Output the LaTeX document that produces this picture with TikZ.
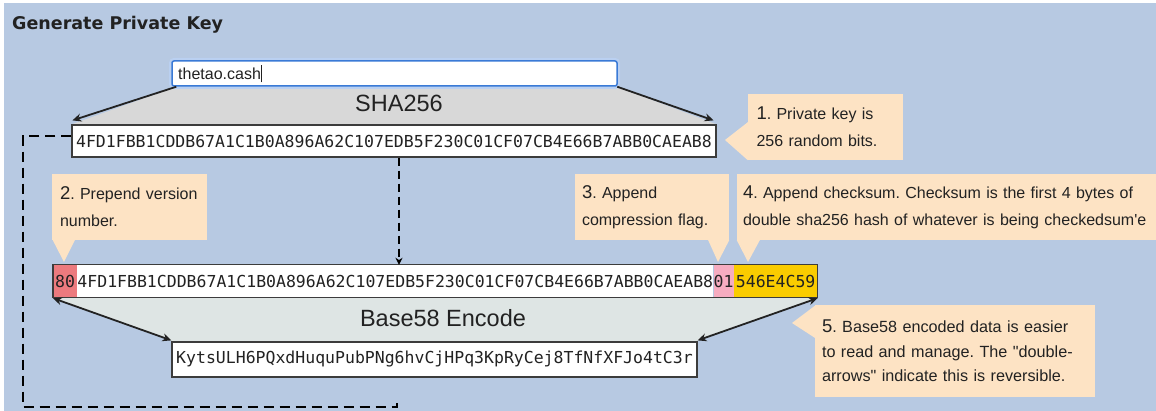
\documentclass[tikz,border=0pt]{standalone}
\usepackage{fontspec}
\setmainfont{Liberation Sans}
\newfontfamily\titlefont{DejaVu Sans}
\newfontfamily\hexfont{DejaVu Sans Mono}
\usetikzlibrary{arrows.meta,backgrounds}
\frenchspacing

\definecolor{bgblue}{RGB}{183,201,226}
\definecolor{peach}{RGB}{253,227,196}
\definecolor{shagray}{RGB}{216,216,216}
\definecolor{encgray}{RGB}{222,229,228}
\definecolor{verred}{RGB}{236,122,126}
\definecolor{flagpink}{RGB}{246,172,192}
\definecolor{ckyellow}{RGB}{250,204,0}
\definecolor{focusblue}{RGB}{58,122,214}
\definecolor{ink}{RGB}{34,34,34}
\definecolor{boxedge}{RGB}{60,60,60}

\newcommand\cnum[1]{{\fontsize{18.5}{26}\selectfont #1}}
\newcommand\noteline[1]{\mbox{#1}}

\tikzset{
  callout/.style={fill=peach, inner sep=0pt, align=left, text=ink,
    font=\fontsize{16}{27}\selectfont},
  hexbox/.style={draw=boxedge, line width=1.2pt, fill=white, text=ink,
    font=\hexfont\fontsize{16.5}{20}\selectfont, inner ysep=0pt},
  hexseg/.style={inner sep=0pt, text=ink, minimum height=32pt,
    font=\hexfont\fontsize{16.5}{20}\selectfont},
  flow/.style={draw=ink, line width=1.8pt, -{Stealth[length=9pt,width=8pt]}},
  bothways/.style={draw=ink, line width=1.8pt,
    {Stealth[length=9pt,width=8pt]}-{Stealth[length=9pt,width=8pt]}},
  dashflow/.style={draw=black, line width=1.8pt, dash pattern=on 8pt off 5pt,
    -{Stealth[length=7pt,width=7pt]}},
  dashloop/.style={draw=black, line width=1.8pt, dash pattern=on 10pt off 6pt},
  stagelabel/.style={font=\fontsize{23.5}{26}\selectfont, text=ink}
}

\begin{document}
\begin{tikzpicture}[x=1pt,y=-1pt]
\useasboundingbox (0,0) rectangle (1156,411);

% heading
\node[anchor=west, inner sep=0pt, text=ink,
      font=\titlefont\bfseries\fontsize{17.5}{20}\selectfont]
  (title) at (12,25) {Generate Private Key};

% passphrase input field
\node[draw=focusblue!35, line width=4pt, rounded corners=3pt,
      minimum width=447pt, minimum height=27pt, inner sep=0pt] (inputglow) at (394.5,73.5) {};
\node[draw=focusblue, line width=1.5pt, fill=white, rounded corners=2pt,
      minimum width=445pt, minimum height=25pt, inner sep=0pt] (input) at (394.5,73.5) {};
\node[anchor=west, inner sep=0pt, text=ink, font=\fontsize{16}{20}\selectfont]
  (inputtext) at (178,74) {thetao.cash\rule[-3pt]{0.8pt}{17pt}};

% 256-bit private key
\node[hexbox, minimum width=644pt, minimum height=32pt, inner xsep=4pt]
  (hash) at (394,141) {4FD1FBB1CDDB67A1C1B0A896A62C107EDB5F230C01CF07CB4E66B7ABB0CAEAB8};

% SHA256 stage
\node[stagelabel] (sha) at (399,103) {SHA256};
\draw[flow] ([xshift=5pt]input.south west) -- ([shift={(1pt,4pt)}]hash.north west);
\draw[flow] ([xshift=-0.5pt]input.south east) -- ([shift={(-3pt,4pt)}]hash.north east);

% extended key: version + key + compression flag + checksum
\node[hexseg, fill=verred, anchor=west, inner xsep=2pt] (ver) at (53,281) {80};
\node[hexseg, fill=white, anchor=west] (key) at (ver.east)
  {4FD1FBB1CDDB67A1C1B0A896A62C107EDB5F230C01CF07CB4E66B7ABB0CAEAB8};
\node[hexseg, fill=flagpink, anchor=west] (flag) at (key.east) {01};
\node[hexseg, fill=ckyellow, anchor=west, inner xsep=2pt] (ck) at (flag.east) {546E4C59};
\draw[boxedge, line width=1.2pt] (ver.north west) rectangle (ck.south east);

% Base58 result
\node[hexbox, minimum width=525pt, minimum height=35pt, inner xsep=4pt]
  (wif) at (434.5,359.5) {KytsULH6PQxdHuquPubPNg6hvCjHPq3KpRyCej8TfNfXFJo4tC3r};

% Base58 stage
\node[stagelabel] (enc) at (443,318) {Base58 Encode};
\draw[bothways] ([yshift=-1pt]ver.south west) -- ([yshift=1pt]wif.north west);
\draw[bothways] ([yshift=-1pt]ck.south east) -- ([yshift=1pt]wif.north east);

% key carried down into the extended key
\draw[dashflow] ([xshift=5pt]hash.south) -- ([xshift=5pt]hash.south |- key.north);

% key carried on to the next step
\coordinate (loopa) at (23,136);
\coordinate (loopb) at (23,407);
\coordinate (loopc) at (397,407);
\coordinate (loopd) at (397,403);
\draw[dashloop] ([yshift=5pt]hash.west) -- (loopa) -- (loopb) -- (loopc) -- (loopd);

% callouts
\node[callout, minimum width=155pt, minimum height=66pt, text width=138pt]
  (c1) at (825.5,127) {\noteline{\cnum{1}. Private key is}\\\noteline{256 random bits.}};
\coordinate (t1) at (725,140);
\fill[peach] ([yshift=38pt]c1.south west) -- (t1) -- (c1.south west) -- cycle;

\node[callout, minimum width=155pt, minimum height=66pt, text width=139pt]
  (c2) at (129.5,207) {\noteline{\cnum{2}. Prepend version}\\\noteline{number.}};
\coordinate (t2) at (64,262);
\fill[peach] ([xshift=1pt]c2.south west) -- (t2) -- ([xshift=23pt]c2.south west) -- cycle;

\node[callout, minimum width=154pt, minimum height=66pt, text width=140pt]
  (c3) at (652,207) {\noteline{\cnum{3}. Append}\\\noteline{compression flag.}};
\coordinate (t3) at (718,262);
\fill[peach] ([xshift=-21pt]c3.south east) -- (t3) -- (c3.south east) -- cycle;

\node[callout, minimum width=419pt, minimum height=66pt, text width=407pt]
  (c4) at (946.5,207) {\noteline{\cnum{4}. Append checksum. Checksum is the first 4 bytes of}\\\noteline{double sha256 hash of whatever is being checkedsum\textquotesingle e}};
\coordinate (t4) at (748,262);
\fill[peach] (c4.south west) -- (t4) -- ([xshift=23pt]c4.south west) -- cycle;

\node[callout, minimum width=280pt, minimum height=92pt, text width=266pt,
      font=\fontsize{16.2}{24.5}\selectfont]
  (c5) at (955,351) {\noteline{\cnum{5}. Base58 encoded data is easier}\\\noteline{to read and manage. The \textquotedbl double-}\\\noteline{arrows\textquotedbl{} indicate this is reversible.}};
\coordinate (t5) at (792,323);
\fill[peach] ([yshift=-1pt]c5.north west) -- (t5) -- ([yshift=-33pt]c5.north west) -- cycle;

% backdrop and stage bands
\begin{scope}[on background layer]
  \fill[bgblue] (0,0) rectangle (1156,411);
  \fill[white] (0,0) rectangle (1156,3);
  \fill[white] (0,0) rectangle (4,411);
  \fill[shagray] ([xshift=5pt]input.south west) -- ([xshift=-0.5pt]input.south east)
    -- (hash.north east) -- (hash.north west) -- cycle;
  \fill[encgray] ([yshift=-0.6pt]ver.south west) -- ([yshift=-0.6pt]ck.south east)
    -- ([yshift=0.6pt]wif.north east) -- ([yshift=0.6pt]wif.north west) -- cycle;
\end{scope}
\end{tikzpicture}
\end{document}
